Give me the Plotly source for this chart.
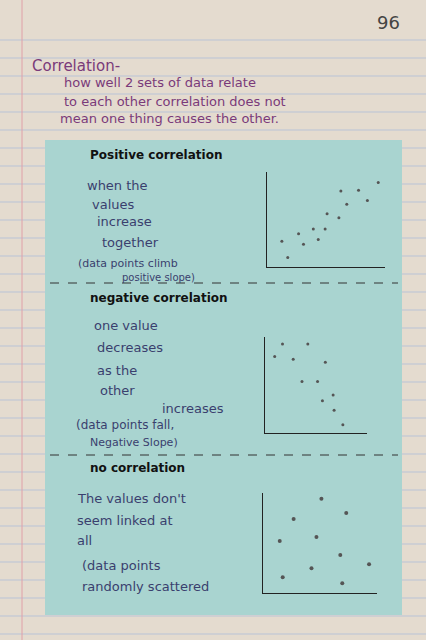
import plotly.graph_objects as go

# positive correlation points
pos_x = [1.5, 2.1, 3.2, 3.7, 4.7, 5.2, 5.9, 6.1, 7.3, 7.5, 8.1, 9.3, 10.2, 11.3]
pos_y = [2.7, 1.0, 3.5, 2.4, 4.0, 2.9, 4.0, 5.6, 5.2, 8.0, 6.6, 8.1, 7.0, 8.9]

# negative correlation points
neg_x = [1.0, 1.8, 2.9, 4.4, 6.2, 3.8, 5.4, 5.9, 7.0, 7.1, 8.0]
neg_y = [8.0, 9.3, 7.7, 9.3, 7.4, 5.4, 5.4, 3.4, 4.0, 2.4, 0.9]

# no correlation points
no_x = [5.9, 3.1, 8.4, 1.7, 5.4, 7.8, 10.7, 4.9, 2.0, 8.0]
no_y = [9.4, 7.4, 8.0, 5.2, 5.6, 3.8, 2.9, 2.5, 1.6, 1.0]

W, H = 426, 640
ink = "#3a3f6e"
purple = "#7a3a7a"
hand = "DejaVu Sans"

def px(x):
    return x / W

def py(y):
    return 1 - y / H

fig = go.Figure()
fig.add_trace(go.Scatter(x=pos_x, y=pos_y, mode="markers", xaxis="x", yaxis="y",
                         marker=dict(size=3, color="#555")))
fig.add_trace(go.Scatter(x=neg_x, y=neg_y, mode="markers", xaxis="x2", yaxis="y2",
                         marker=dict(size=3, color="#555")))
fig.add_trace(go.Scatter(x=no_x, y=no_y, mode="markers", xaxis="x3", yaxis="y3",
                         marker=dict(size=4, color="#555")))

def ax(domain, rng, anchor):
    return dict(domain=domain, range=rng, anchor=anchor, showline=True, linecolor="#222",
                linewidth=1.2, showgrid=False, zeroline=False, showticklabels=False, ticks="")

shapes = []
# notebook ruled lines
for yy in range(40, 640, 18):
    shapes.append(dict(type="line", xref="paper", yref="paper", x0=0, x1=1, y0=py(yy), y1=py(yy),
                       line=dict(color="#b9c3d6", width=1), layer="below"))
shapes.append(dict(type="line", xref="paper", yref="paper", x0=px(22), x1=px(22), y0=0, y1=1,
                   line=dict(color="#e0a0a8", width=1), layer="below"))
# sticky card
shapes.append(dict(type="rect", xref="paper", yref="paper", x0=px(45), x1=px(402), y0=py(615), y1=py(140),
                   fillcolor="#a9d4d0", line=dict(width=0), layer="below"))
for yy in [283, 455]:
    shapes.append(dict(type="line", xref="paper", yref="paper", x0=px(50), x1=px(398), y0=py(yy), y1=py(yy),
                       line=dict(color="#333", width=1, dash="dash"), layer="below"))

texts = [
    ("96", 375, 22, 18, "#444", False),
    ("Correlation-", 30, 66, 15, purple, False),
    ("how well 2 sets of data relate", 62, 83, 13, purple, False),
    ("to each other correlation does not", 62, 101, 13, purple, False),
    ("mean one thing causes the other.", 58, 119, 13, purple, False),
    ("Positive correlation", 88, 155, 12, "#111", True),
    ("when the", 85, 185, 13, ink, False),
    ("values", 90, 204, 13, ink, False),
    ("increase", 95, 221, 13, ink, False),
    ("together", 100, 242, 13, ink, False),
    ("(data points climb", 76, 263, 11, ink, False),
    ("positive slope)", 120, 277, 10, ink, False),
    ("negative correlation", 88, 298, 12, "#111", True),
    ("one value", 92, 325, 13, ink, False),
    ("decreases", 95, 347, 13, ink, False),
    ("as the", 95, 370, 13, ink, False),
    ("other", 98, 390, 13, ink, False),
    ("increases", 160, 408, 13, ink, False),
    ("(data points fall,", 74, 425, 12, ink, False),
    ("Negative Slope)", 88, 442, 11, ink, False),
    ("no correlation", 88, 468, 12, "#111", True),
    ("The values don't", 75, 498, 13, ink, False),
    ("seem linked at", 75, 520, 13, ink, False),
    ("all", 75, 540, 13, ink, False),
    ("(data points", 80, 565, 13, ink, False),
    ("randomly scattered", 80, 586, 13, ink, False),
]
annotations = []
for t, x, y, s, c, b in texts:
    annotations.append(dict(text="<b>%s</b>" % t if b else t, x=px(x), y=py(y), xref="paper", yref="paper",
                            xanchor="left", yanchor="middle", showarrow=False,
                            font=dict(family=hand, size=s, color=c)))

fig.update_layout(
    width=W, height=H, margin=dict(l=0, r=0, t=0, b=0), showlegend=False,
    paper_bgcolor="#e4dbcf", plot_bgcolor="rgba(0,0,0,0)",
    xaxis=ax([0.627, 0.904], [0, 12], "y"), yaxis=ax([0.583, 0.731], [0, 10], "x"),
    xaxis2=ax([0.622, 0.862], [0, 10.5], "y2"), yaxis2=ax([0.323, 0.473], [0, 10], "x2"),
    xaxis3=ax([0.617, 0.885], [0, 11.5], "y3"), yaxis3=ax([0.073, 0.230], [0, 10], "x3"),
    shapes=shapes, annotations=annotations,
)
fig.write_html("out.html", config={"displayModeBar": False},
               post_script="document.body.style.margin='0';")
